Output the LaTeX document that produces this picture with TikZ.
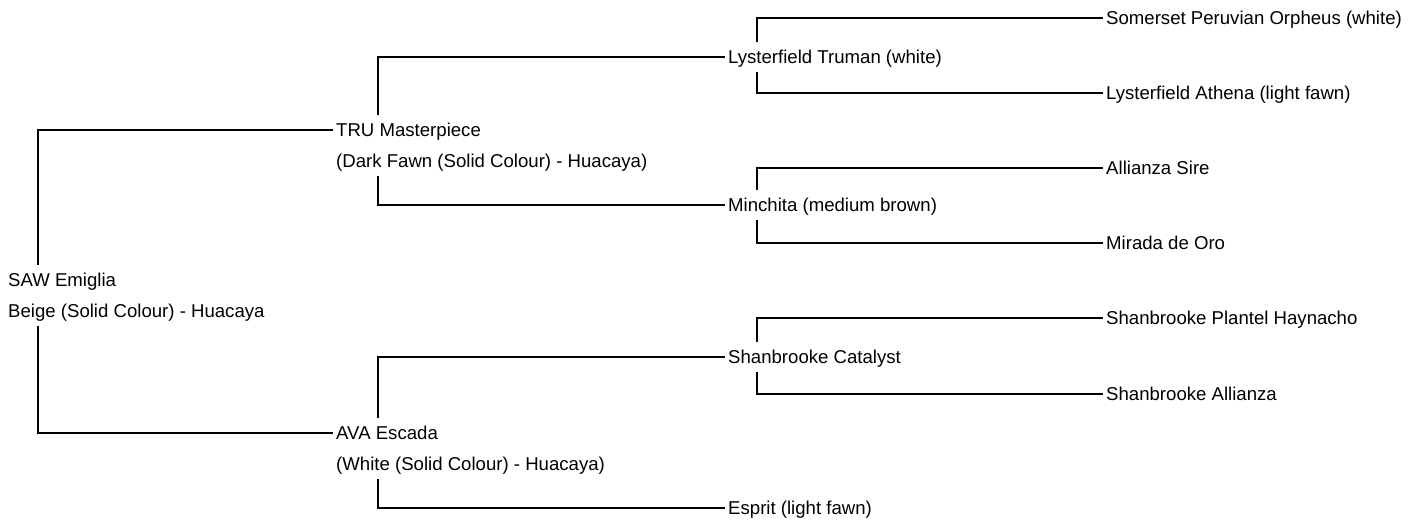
\documentclass[tikz,border=0pt]{standalone}
\usepackage{fontspec}
\setmainfont{Liberation Sans}
\usetikzlibrary{positioning}

\begin{document}
\begin{tikzpicture}[x = 1pt, y = -1pt, font = \fontsize{18.6}{22}\selectfont,
  every node/.style = {anchor = west, inner xsep = 3pt, inner ysep = 7.7pt, text height = 13.5pt, text depth = 0.3pt},
  link/.style = {line width = 1.3pt}]
\useasboundingbox (0, 0) rectangle (1413, 520);

% animal and parents
\node (saw) at (5, 280) {SAW Emiglia};
\node (sawc) at (5, 311) {Beige (Solid Colour) - Huacaya};
\node (tru) at (333, 130) {TRU Masterpiece};
\node (truc) at (333, 161) {(Dark Fawn (Solid Colour) - Huacaya)};
\node (ava) at (333, 433) {AVA Escada};
\node (avac) at (333, 464) {(White (Solid Colour) - Huacaya)};

% grandparents
\node (lys) at (725, 57) {Lysterfield Truman (white)};
\node (min) at (725, 205) {Minchita (medium brown)};
\node (cat) at (725, 357) {Shanbrooke Catalyst};
\node (esp) at (725, 508) {Esprit (light fawn)};

% great-grandparents
\node (orp) at (1103, 18) {Somerset Peruvian Orpheus (white)};
\node (ath) at (1103, 93) {Lysterfield Athena (light fawn)};
\node (sire) at (1103, 168) {Allianza Sire};
\node (oro) at (1103, 243) {Mirada de Oro};
\node (hay) at (1103, 318) {Shanbrooke Plantel Haynacho};
\node (all) at (1103, 394) {Shanbrooke Allianza};

\draw[link] ([xshift = 33pt]saw.north west) |- (tru.west);
\draw[link] ([xshift = 33pt]sawc.south west) |- (ava.west);
\draw[link] ([xshift = 45pt]tru.north west) |- (lys.west);
\draw[link] ([xshift = 45pt]truc.south west) |- (min.west);
\draw[link] ([xshift = 45pt]ava.north west) |- (cat.west);
\draw[link] ([xshift = 45pt]avac.south west) |- (esp.west);
\draw[link] ([xshift = 32pt]lys.north west) |- (orp.west);
\draw[link] ([xshift = 32pt]lys.south west) |- (ath.west);
\draw[link] ([xshift = 32pt]min.north west) |- (sire.west);
\draw[link] ([xshift = 32pt]min.south west) |- (oro.west);
\draw[link] ([xshift = 32pt]cat.north west) |- (hay.west);
\draw[link] ([xshift = 32pt]cat.south west) |- (all.west);

\end{tikzpicture}
\end{document}
